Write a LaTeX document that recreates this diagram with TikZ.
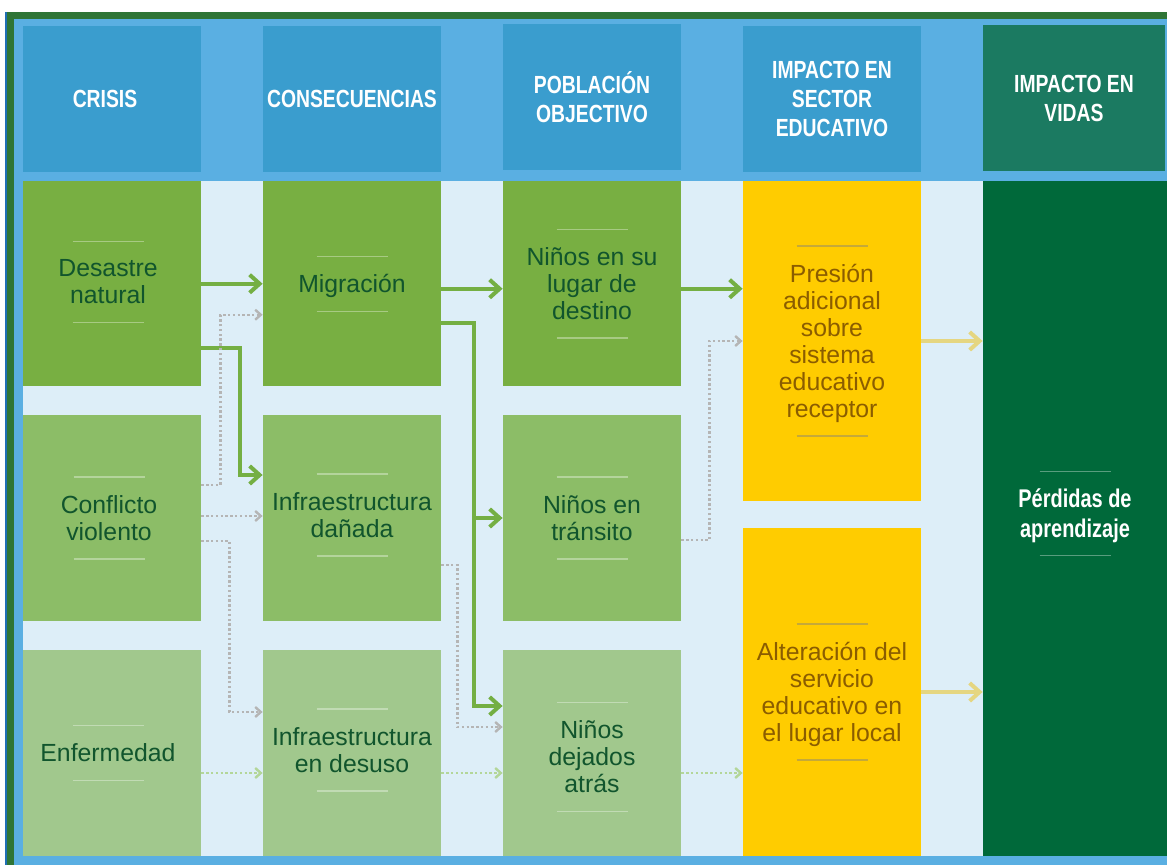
\documentclass[tikz,border=0pt]{standalone}
\usepackage{fontspec}
\setmainfont{Liberation Sans}
\newfontfamily\condfont[FakeStretch=0.78]{Liberation Sans}
\usetikzlibrary{arrows.meta}
\definecolor{framegreen}{HTML}{2F7536}
\definecolor{edgeblue}{HTML}{1F6FB5}
\definecolor{outerblue}{HTML}{5AAFE2}
\definecolor{headblue}{HTML}{3A9DCE}
\definecolor{headteal}{HTML}{1B7A61}
\definecolor{bodybg}{HTML}{DDEEF8}
\definecolor{rowA}{HTML}{78AF42}
\definecolor{rowB}{HTML}{8CBD67}
\definecolor{rowC}{HTML}{A1C88D}
\definecolor{yellowbox}{HTML}{FFCC00}
\definecolor{lossgreen}{HTML}{00693A}
\definecolor{textgreen}{HTML}{11552D}
\definecolor{textbrown}{HTML}{8B5D00}
\definecolor{arrowgreen}{HTML}{74AF43}
\definecolor{dotgray}{HTML}{B5B5B5}
\definecolor{dotgreen}{HTML}{B3D699}
\definecolor{khaki}{HTML}{E5D681}

\begin{document}
\begin{tikzpicture}[x=0.5pt,y=-0.5pt,
  head/.style={fill=headblue,minimum width=89pt,minimum height=73pt,inner sep=0pt,
    text=white,align=center,font=\condfont\bfseries\fontsize{12.4}{14.5}\selectfont},
  cell/.style={fill=#1,minimum width=89pt,inner sep=0pt},
  txt/.style={align=center,text=textgreen,font=\fontsize{12.4}{13.5}\selectfont,
    inner xsep=0pt,inner ysep=9pt,text depth=0pt},
  deco/.style={draw=white,opacity=.35,line width=0.65pt},
  decoy/.style={draw=gray,opacity=.45,line width=0.65pt},
  flow/.style={draw=arrowgreen,line width=2pt,-{Straight Barb[length=5pt,width=9pt]}},
  weak/.style={draw=dotgray,line width=1.2pt,dash pattern=on 1.2pt off 1.2pt,
    -{Straight Barb[length=2.8pt,width=5pt]}},
  weakgreen/.style={weak,draw=dotgreen},
  gain/.style={flow,draw=khaki}]
\useasboundingbox (0,0) rectangle (1167,865);

% frame and background
\fill[edgeblue] (5,12) rectangle (1167,865);
\fill[framegreen] (7,12) rectangle (1167,865);
\fill[outerblue] (14,19) rectangle (1167,865);
\fill[bodybg] (23,181) rectangle (1167,856);

% column heads
\node[head] (hcrisis) at (112,99) {\hspace*{-7pt}CRISIS};
\node[head] (hcons) at (352,99) {CONSECUENCIAS};
\node[head] (hpob) at (592,97) {POBLACIÓN\\OBJECTIVO};
\node[head] (himp) at (832,99) {IMPACTO EN\\SECTOR\\EDUCATIVO};
\node[head,fill=headteal,minimum width=91pt] (hvidas) at (1074,98) {IMPACTO EN\\VIDAS};

% boxes
\node[cell=rowA,minimum height=102.75pt] (desastre) at (112,283.75) {};
\node[cell=rowB,minimum height=103pt] (conflicto) at (112,518) {};
\node[cell=rowC,minimum height=103pt] (enfermedad) at (112,753) {};
\node[cell=rowA,minimum height=102.75pt] (migracion) at (352,283.75) {};
\node[cell=rowB,minimum height=103pt] (infradan) at (352,518) {};
\node[cell=rowC,minimum height=103pt] (infradesuso) at (352,753) {};
\node[cell=rowA,minimum height=102.75pt] (ninosdest) at (592,283.75) {};
\node[cell=rowB,minimum height=103pt] (ninostrans) at (592,518) {};
\node[cell=rowC,minimum height=103pt] (ninosdej) at (592,753) {};
\node[cell=yellowbox,minimum height=160pt] (presion) at (832,341) {};
\node[cell=yellowbox,minimum height=164pt] (alteracion) at (832,692) {};
\node[cell=lossgreen,minimum width=92pt,minimum height=337.5pt] (perdidas) at (1075,518.5) {};

% texts
\node[txt,xshift=-2pt,yshift=1pt] (desastre-t) at (desastre) {Desastre\\natural};
\node[txt,xshift=-1.5pt] (conflicto-t) at (conflicto) {Conflicto\\violento};
\node[txt,xshift=-2pt] (enfermedad-t) at (enfermedad) {Enfermedad};
\node[txt] (migracion-t) at (migracion) {Migración};
\node[txt,yshift=1.5pt] (infradan-t) at (infradan) {Infraestructura\\dañada};
\node[txt,yshift=1.5pt] (infradesuso-t) at (infradesuso) {Infraestructura\\en desuso};
\node[txt] (ninosdest-t) at (ninosdest) {Niños en su\\lugar de\\destino};
\node[txt] (ninostrans-t) at (ninostrans) {Niños en\\tránsito};
\node[txt,yshift=-2pt] (ninosdej-t) at (ninosdej) {Niños\\dejados\\atrás};
\node[txt,text=textbrown] (presion-t) at (presion) {Presión\\adicional\\sobre\\sistema\\educativo\\receptor};
\node[txt,text=textbrown] (alteracion-t) at (alteracion) {Alteración del\\servicio\\educativo en\\el lugar local};
\node[txt,text=white,inner ysep=8.5pt,yshift=2.5pt,font=\condfont\bfseries\fontsize{12.8}{15}\selectfont]
  (perdidas-t) at (perdidas) {Pérdidas de\\aprendizaje};

\foreach \n in {desastre,conflicto,enfermedad,migracion,infradan,infradesuso,
    ninosdest,ninostrans,ninosdej,perdidas} {
  \draw[deco] ([xshift=-17.75pt]\n-t.north) -- ([xshift=17.75pt]\n-t.north);
  \draw[deco] ([xshift=-17.75pt]\n-t.south) -- ([xshift=17.75pt]\n-t.south);
}
\foreach \n in {presion,alteracion} {
  \draw[decoy] ([xshift=-17.75pt]\n-t.north) -- ([xshift=17.75pt]\n-t.north);
  \draw[decoy] ([xshift=-17.75pt]\n-t.south) -- ([xshift=17.75pt]\n-t.south);
}

% links
\draw[flow] (desastre.east) -- (desastre.east -| migracion.west);
\draw[flow] ([yshift=-32pt]desastre.east) -- ++(39,0) |- ([yshift=21.5pt]infradan.west);
\draw[weak] ([yshift=16.5pt]conflicto.east) -- ++(19,0) |- ([yshift=-15.5pt]migracion.west);
\draw[weak] ([yshift=1pt]conflicto.east) -- ([yshift=1pt]conflicto.east -| infradan.west);
\draw[weak] ([yshift=-11.5pt]conflicto.east) -- ++(28,0) |- ([yshift=20.5pt]infradesuso.west);
\draw[weakgreen] ([yshift=-10pt]enfermedad.east) -- ([yshift=-10pt]enfermedad.east -| infradesuso.west);
\draw[flow] ([yshift=-2.5pt]migracion.east) -- ([yshift=-2.5pt]migracion.east -| ninosdest.west);
\draw[flow] ([yshift=-19.5pt]migracion.east) -- ++(33,0) coordinate (split) |- ([yshift=23.5pt]ninosdej.west);
\draw[flow] (split |- ninostrans.west) -- (ninostrans.west);
\draw[weak] ([yshift=-23.5pt]infradan.east) -- ++(16,0) |- ([yshift=13pt]ninosdej.west);
\draw[weakgreen] ([yshift=-10pt]infradesuso.east) -- ([yshift=-10pt]infradesuso.east -| ninosdej.west);
\draw[flow] ([yshift=-2.5pt]ninosdest.east) -- ([yshift=-2.5pt]ninosdest.east -| presion.west);
\draw[weak] ([yshift=-11pt]ninostrans.east) -- ++(28,0) |- (presion.west);
\draw[weakgreen] ([yshift=-10pt]ninosdej.east) -- ([yshift=-10pt]ninosdej.east -| alteracion.west);
\draw[gain] (presion.east) -- (presion.east -| perdidas.west);
\draw[gain] (alteracion.east) -- (alteracion.east -| perdidas.west);
\end{tikzpicture}
\end{document}
